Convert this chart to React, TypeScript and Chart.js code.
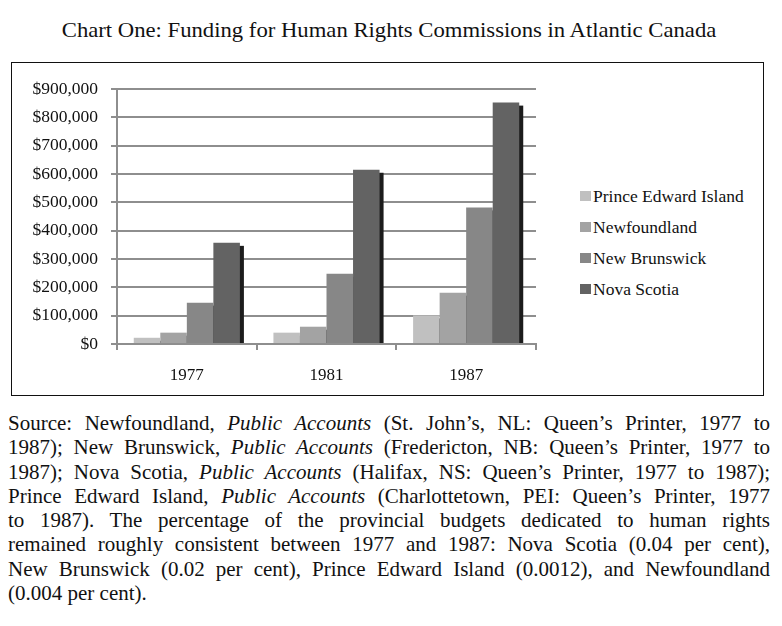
import React, { useEffect, useRef } from "react";
import { Chart, registerables } from "chart.js";

Chart.register(...registerables);

const TITLE = "Chart One: Funding for Human Rights Commissions in Atlantic Canada";
const years = ["1977", "1981", "1987"];
const seriesNames = ["Prince Edward Island", "Newfoundland", "New Brunswick", "Nova Scotia"];
const peiValues = [22000, 40000, 101000];
const nlValues = [40000, 61000, 181000];
const nbValues = [146000, 248000, 482000];
const nsValues = [357000, 615000, 852000];
const seriesColors = ["#c0c0c0", "#a3a3a3", "#878787", "#636363"];
const SHADOW_COLOR = "#1c1c1c";
const yTicksMax = 900000;
const yTickStep = 100000;

const FONT = "'Liberation Serif', 'Times New Roman', serif";
const GRID = "#8e8e8e";

const sourceLines: { parts: [string, boolean][]; last?: boolean }[] = [
  { parts: [["Source: Newfoundland, ", false], ["Public Accounts", true], [" (St. John’s, NL: Queen’s Printer, 1977 to", false]] },
  { parts: [["1987); New Brunswick, ", false], ["Public Accounts", true], [" (Fredericton, NB: Queen’s Printer, 1977 to", false]] },
  { parts: [["1987); Nova Scotia, ", false], ["Public Accounts", true], [" (Halifax, NS: Queen’s Printer, 1977 to 1987);", false]] },
  { parts: [["Prince Edward Island, ", false], ["Public Accounts", true], [" (Charlottetown, PEI: Queen’s Printer, 1977", false]] },
  { parts: [["to 1987). The percentage of the provincial budgets dedicated to human rights", false]] },
  { parts: [["remained roughly consistent between 1977 and 1987: Nova Scotia (0.04 per cent),", false]] },
  { parts: [["New Brunswick (0.02 per cent), Prince Edward Island (0.0012), and Newfoundland", false]] },
  { parts: [["(0.004 per cent).", false]], last: true },
];

const shadowPlugin = {
  id: "barShadow",
  beforeDatasetsDraw(chart: any) {
    const ctx = chart.ctx;
    ctx.save();
    ctx.fillStyle = SHADOW_COLOR;
    chart.data.datasets.forEach((_ds: any, i: number) => {
      const meta = chart.getDatasetMeta(i);
      meta.data.forEach((bar: any) => {
        const p = bar.getProps(["x", "y", "base", "width"], true);
        ctx.fillRect(p.x - p.width / 2 + 4, p.y + 3, p.width, p.base - p.y - 3);
      });
    });
    ctx.restore();
  },
};

export default function App() {
  const ref = useRef<HTMLCanvasElement | null>(null);

  useEffect(() => {
    if (!ref.current) return;
    const values = [peiValues, nlValues, nbValues, nsValues];
    const chart = new Chart(ref.current, {
      type: "bar",
      data: {
        labels: years,
        datasets: seriesNames.map((name, i) => ({
          label: name,
          data: values[i],
          backgroundColor: seriesColors[i],
          borderWidth: 0,
          barPercentage: 1,
          categoryPercentage: 0.76,
        })),
      },
      options: {
        animation: false,
        responsive: false,
        maintainAspectRatio: false,
        layout: { padding: { top: 26, right: 7, bottom: 0, left: 0 } },
        plugins: {
          legend: { display: false },
          tooltip: { enabled: false },
          title: { display: false },
        },
        scales: {
          x: {
            grid: {
              display: true,
              drawOnChartArea: false,
              offset: true,
              tickLength: 6,
              color: GRID,
              lineWidth: 2,
            },
            border: { display: true, color: GRID, width: 2 },
            ticks: {
              color: "#111",
              padding: 15,
              font: { family: FONT, size: 17 },
            },
            afterFit: (s: any) => {
              s.height = 51;
            },
          },
          y: {
            min: 0,
            max: yTicksMax,
            grid: { color: GRID, lineWidth: 2, tickLength: 6 },
            border: { display: true, color: GRID, width: 2 },
            ticks: {
              stepSize: yTickStep,
              color: "#111",
              padding: 13,
              font: { family: FONT, size: 17.5 },
              callback: (v: any) => "$" + Number(v).toLocaleString("en-US"),
            },
            afterFit: (s: any) => {
              s.width = 104;
            },
          },
        },
      },
      plugins: [shadowPlugin],
    });
    return () => chart.destroy();
  }, []);

  return (
    <div style={{ position: "absolute", left: 0, top: 0, width: 782, height: 626, background: "#fff", fontFamily: FONT, color: "#111" }}>
      <div style={{ position: "absolute", left: 0, top: 18, width: 778, textAlign: "center", fontSize: 21, lineHeight: "24px" }}>
        <span style={{ display: "inline-block", transform: "scaleX(1.08)", whiteSpace: "nowrap" }}>{TITLE}</span>
      </div>
      <div style={{ position: "absolute", left: 11, top: 62, width: 751, height: 332, border: "1.5px solid #111" }} />
      <canvas
        ref={ref}
        width={530}
        height={332}
        style={{ position: "absolute", left: 13, top: 63, width: 530, height: 332 }}
      />
      {seriesNames.map((name, i) => (
        <div key={name} style={{ position: "absolute", left: 580, top: 186 + i * 31, height: 20, display: "flex", alignItems: "center" }}>
          <div style={{ width: 11, height: 10, background: seriesColors[i], marginRight: 2 }} />
          <span style={{ fontSize: 17.5, lineHeight: "20px", whiteSpace: "nowrap" }}>{name}</span>
        </div>
      ))}
      <div style={{ position: "absolute", left: 8, top: 411, width: 762, fontSize: 21, lineHeight: "24.3px" }}>
        {sourceLines.map((ln, i) => (
          <div key={i} style={{ textAlign: ln.last ? "left" : "justify", textAlignLast: ln.last ? "left" : "justify" } as any}>
            {ln.parts.map(([t, it], j) => (it ? <i key={j}>{t}</i> : <span key={j}>{t}</span>))}
          </div>
        ))}
      </div>
    </div>
  );
}
